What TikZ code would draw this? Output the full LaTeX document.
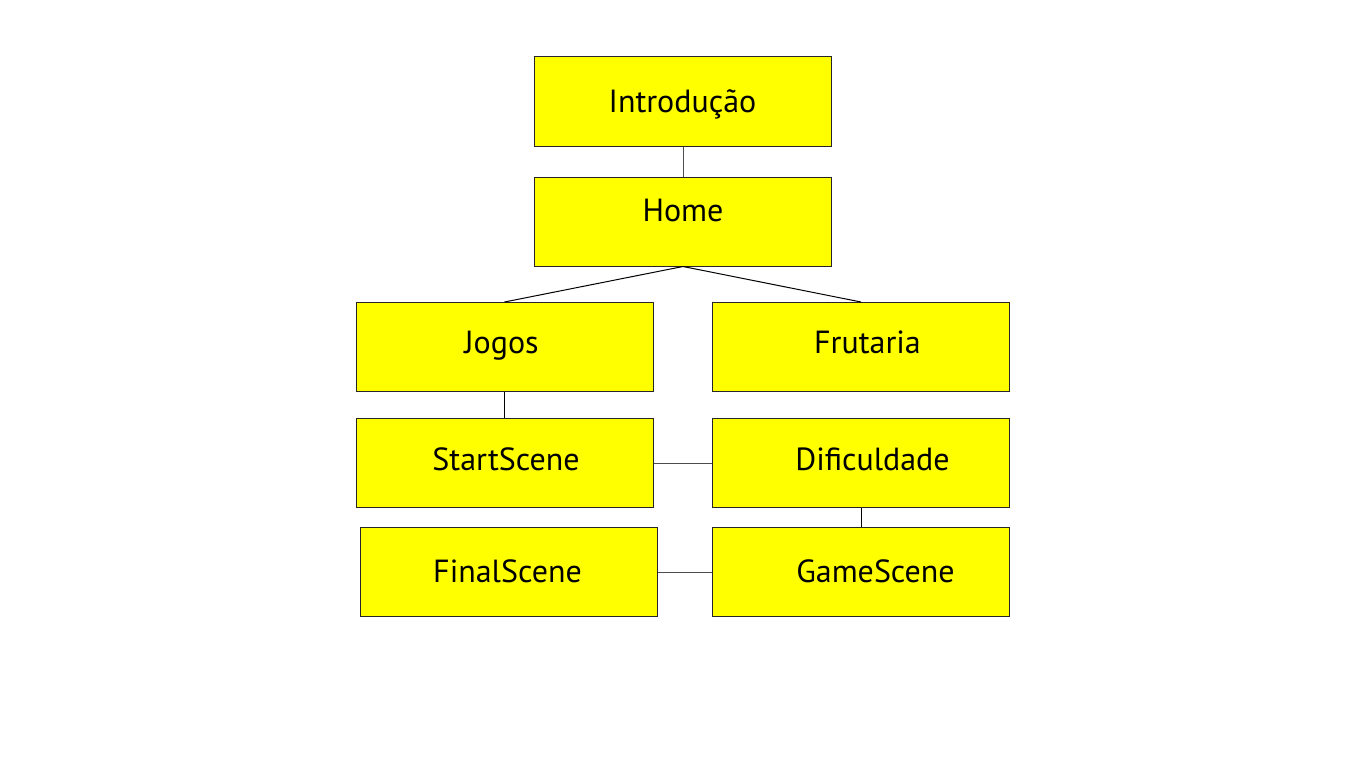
\documentclass[tikz,border=0pt]{standalone}
\usepackage{fontspec}
\setmainfont{PT Sans}
\definecolor{yel}{RGB}{255,255,0}
\begin{document}
\begin{tikzpicture}[x=1pt,y=-1pt,
  box/.style={draw=black!85,fill=yel,line width=1pt,rectangle,inner sep=0pt,minimum width=297pt,minimum height=89pt},
  lbl/.style={anchor=base,inner sep=0pt,font=\fontsize{32}{36}\selectfont},
  conn/.style={draw=black!70,line width=1pt}]
\useasboundingbox[fill=white] (0,0) rectangle (1366,768);
\node[box] (intro) at (683,101.5) {};
\node[box] (home) at (683,221.5) {};
\node[box] (jogos) at (504.5,347) {};
\node[box] (frut) at (861,347) {};
\node[box] (start) at (504.5,463) {};
\node[box] (dif) at (861,463) {};
\node[box] (final) at (509,572) {};
\node[box] (game) at (861,572) {};
\node[lbl] (introt) at (682.5,112) {Introdução};
\node[lbl] (homet) at (683,221.7) {Home};
\node[lbl] (jogost) at (501.5,353) {Jogos};
\node[lbl] (frutt) at (867.5,353) {Frutaria};
\node[lbl] (startt) at (506,470) {StartScene};
\node[lbl] (dift) at (872.5,470.7) {Dificuldade};
\node[lbl] (finalt) at (507.5,582.7) {FinalScene};
\node[lbl] (gamet) at (875.5,582.7) {GameScene};
\draw[conn] (intro.south) -- (home.north);
\draw[conn,draw=black] (home.south) -- (jogos.north);
\draw[conn,draw=black] (home.south) -- (frut.north);
\draw[conn,draw=black] (jogos.south) -- (start.north);
\draw[conn] (start.east) -- (dif.west);
\draw[conn,draw=black] (dif.south) -- (game.north);
\draw[conn] (final.east) -- (game.west);
\end{tikzpicture}
\end{document}
